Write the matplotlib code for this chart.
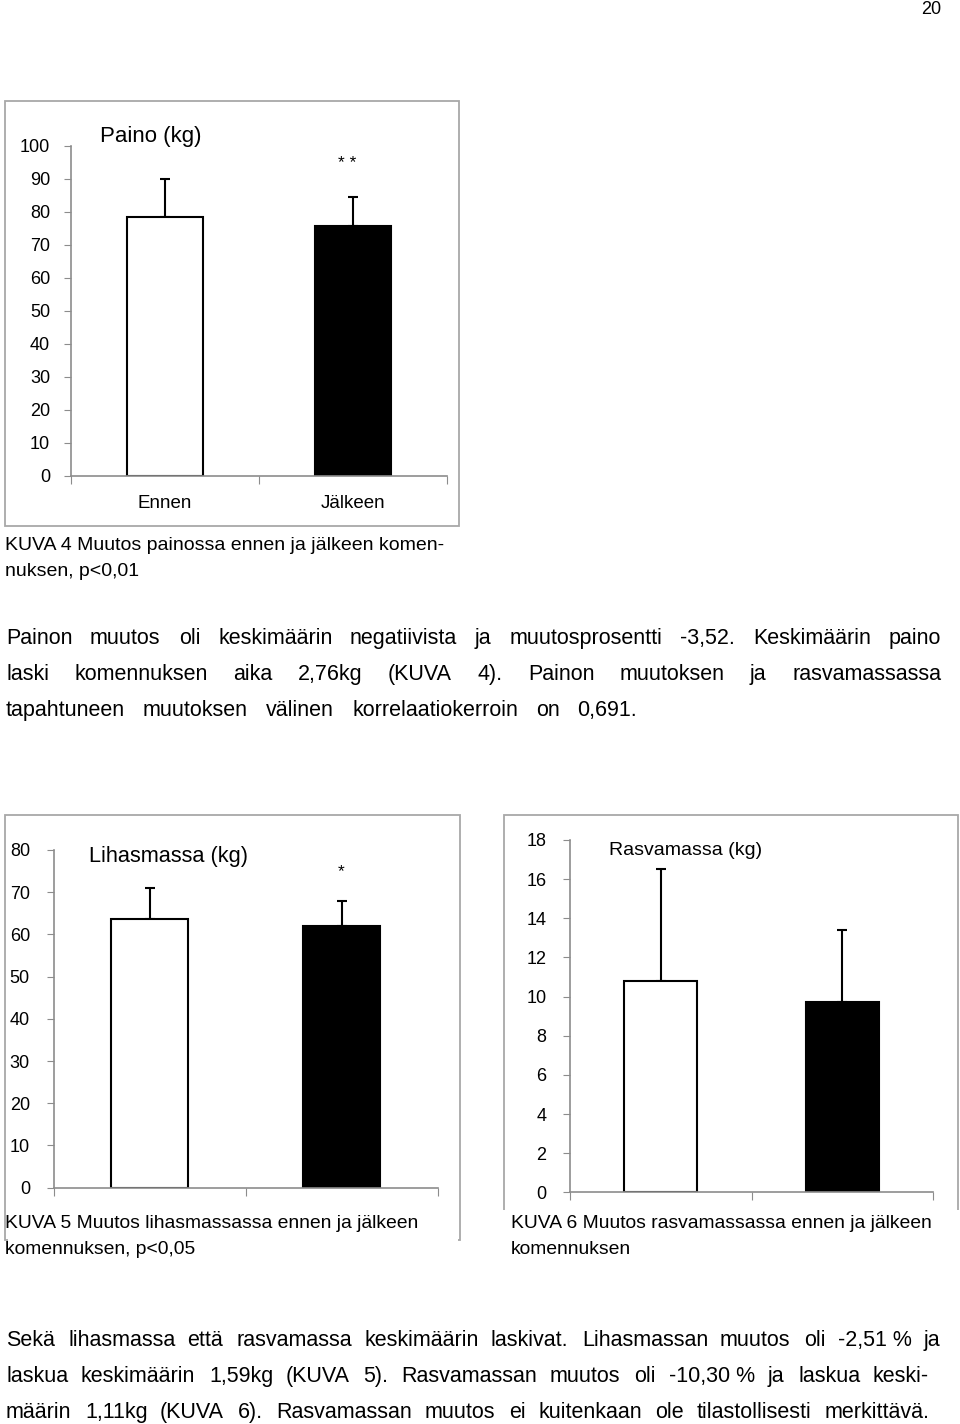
import matplotlib
matplotlib.use('Agg')
import matplotlib.pyplot as plt
from matplotlib.patches import Rectangle

W, H = 960, 1424

categories = ['Ennen', 'Jälkeen']
paino_mean = [78.4, 75.6]
paino_sd = [11.5, 8.8]
lihas_mean = [63.7, 62.1]
lihas_sd = [7.2, 5.8]
rasva_mean = [10.8, 9.7]
rasva_sd = [5.7, 3.7]
paino_ticks = list(range(0, 101, 10))
lihas_ticks = list(range(0, 81, 10))
rasva_ticks = list(range(0, 19, 2))

para1 = [
    ("Painon muutos oli keskimäärin negatiivista ja muutosprosentti -3,52. Keskimäärin paino", 636, 941),
    ("laski komennuksen aika 2,76kg (KUVA 4). Painon muutoksen ja rasvamassassa", 672, 941),
    ("tapahtuneen muutoksen välinen korrelaatiokerroin on 0,691.", 708, 637),
]
para2 = [
    ("Sekä lihasmassa että rasvamassa keskimäärin laskivat. Lihasmassan muutos oli -2,51\u00a0% ja", 1338, 941),
    ("laskua keskimäärin 1,59kg (KUVA 5). Rasvamassan muutos oli -10,30\u00a0% ja laskua keski-", 1374, 929),
    ("määrin 1,11kg (KUVA 6). Rasvamassan muutos ei kuitenkaan ole tilastollisesti merkittävä.", 1410, 930),
]

plt.rcParams['font.family'] = ['Liberation Sans', 'DejaVu Sans']
GREY = '#8c8c8c'

fig = plt.figure(figsize=(9.6, 14.24), dpi=100)


def box(x0, y0, x1, y1):
    # pixel coords of the page, y measured from top
    return [x0 / W, 1 - y1 / H, (x1 - x0) / W, (y1 - y0) / H]


def frame(x0, y0, x1, y1):
    fig.patches.append(Rectangle((x0 / W, 1 - y1 / H), (x1 - x0) / W, (y1 - y0) / H,
                                 transform=fig.transFigure, facecolor='none',
                                 edgecolor='#a8a8a8', linewidth=1.3, zorder=1))


def cover(x0, y0, x1, y1):
    fig.patches.append(Rectangle((x0 / W, 1 - y1 / H), (x1 - x0) / W, (y1 - y0) / H,
                                 transform=fig.transFigure, facecolor='white',
                                 edgecolor='none', zorder=5))


def bar_chart(rect, means, sds, ticks, title, title_xy, title_size, stars, stars_xy, ypad, labels):
    ax = fig.add_axes(rect)
    x = [0.5, 1.5]
    ax.bar(x, means, width=0.4, color=['white', 'black'], edgecolor='black', linewidth=1.5, zorder=2)
    ax.errorbar(x, means, yerr=[[0, 0], sds], fmt='none', ecolor='black',
                elinewidth=1.5, capsize=3.5, capthick=1.5, zorder=1)
    ax.set_xlim(0, 2)
    ax.set_ylim(ticks[0], ticks[-1])
    ax.set_yticks(ticks)
    ax.set_xticks([0, 1, 2])
    ax.set_xticklabels([])
    if labels:
        # category names (in KUVA 5 and 6 the caption hides them)
        ax.set_xticks(x, minor=True)
        ax.set_xticklabels(categories, minor=True, fontsize=13.5)
    ax.tick_params(axis='x', which='major', length=6, color=GREY, direction='out')
    ax.tick_params(axis='x', which='minor', length=0, pad=14)
    ax.tick_params(axis='y', length=5, color=GREY, labelsize=13, pad=ypad)
    for s in ['top', 'right']:
        ax.spines[s].set_visible(False)
    for s in ['left', 'bottom']:
        ax.spines[s].set_color(GREY)
        ax.spines[s].set_linewidth(1.2)
    ax.set_facecolor('none')
    ax.text(title_xy[0], title_xy[1], title, fontsize=title_size, ha='left', va='center', clip_on=False)
    if stars:
        ax.text(stars_xy[0], stars_xy[1], stars, fontsize=12.5, ha='center', va='center')
    return ax


def text_line(line, y, x0, x1, size):
    # justified line: words spread between x0 and x1, same baseline
    words = line.split(' ')
    r = fig.canvas.get_renderer()
    base = 1 - (y + 8) / H
    items = []
    total = 0
    for w in words:
        t = fig.text(0, base, w, fontsize=size, ha='left', va='baseline')
        wid = t.get_window_extent(renderer=r).width
        items.append((t, wid))
        total += wid
    gap = (x1 - x0 - total) / (len(words) - 1)
    x = x0
    for t, wid in items:
        t.set_x(round(x) / W)
        x += wid + gap


# page number
fig.text(931 / W, 1 - 10 / H, '20', fontsize=13, ha='center', va='center')

# KUVA 4
frame(5, 101, 459, 526)
bar_chart(box(71, 145.5, 447, 475.7), paino_mean, paino_sd, paino_ticks,
          'Paino (kg)', (0.154, 102.6), 16, '* *', (1.47, 94.5), 10, True)
fig.text(5 / W, 1 - 546 / H, 'KUVA 4 Muutos painossa ennen ja jälkeen komen-', fontsize=14, va='center')
fig.text(5 / W, 1 - 571 / H, 'nuksen, p<0,01', fontsize=14, va='center')

for line, y, x1 in para1:
    text_line(line, y, 6, x1, 15.5)

# KUVA 5
frame(5, 815, 460, 1240)
bar_chart(box(53.5, 850, 438, 1187.7), lihas_mean, lihas_sd, lihas_ticks,
          'Lihasmassa (kg)', (0.185, 78.4), 15.7, '*', (1.495, 74.8), 12, False)
cover(8, 1209, 458, 1268)
fig.text(5 / W, 1 - 1224 / H, 'KUVA 5 Muutos lihasmassassa ennen ja jälkeen', fontsize=13.9, va='center', zorder=6)
fig.text(5 / W, 1 - 1250 / H, 'komennuksen, p<0,05', fontsize=13.9, va='center', zorder=6)

# KUVA 6
frame(504, 815, 958, 1240)
bar_chart(box(570, 840, 933, 1192.3), rasva_mean, rasva_sd, rasva_ticks,
          'Rasvamassa (kg)', (0.215, 17.44), 14, '', None, 12, False)
cover(500, 1210, 960, 1268)
fig.text(511 / W, 1 - 1224 / H, 'KUVA 6 Muutos rasvamassassa ennen ja jälkeen', fontsize=13.9, va='center', zorder=6)
fig.text(511 / W, 1 - 1250 / H, 'komennuksen', fontsize=13.9, va='center', zorder=6)

for line, y, x1 in para2:
    text_line(line, y, 6, x1, 15.5)

fig.savefig('out.png', dpi=100)
